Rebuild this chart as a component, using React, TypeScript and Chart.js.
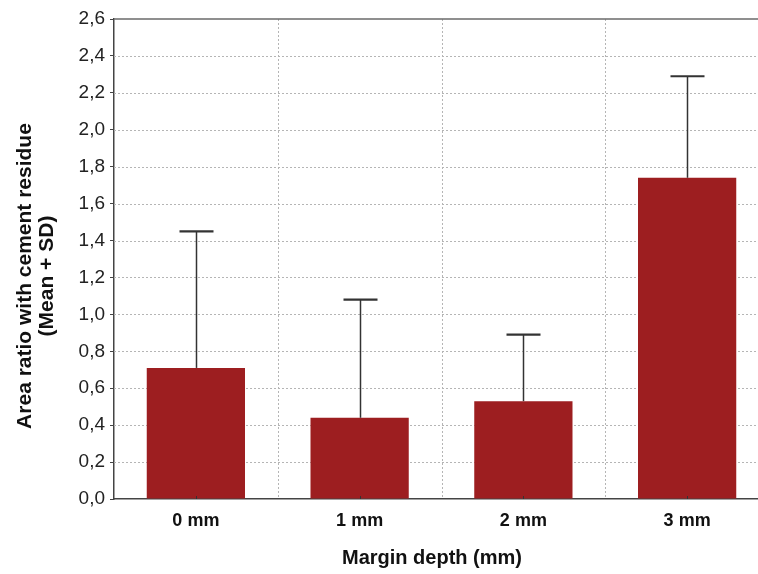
import React, { useEffect, useRef } from 'react';
import { Chart, registerables } from 'chart.js';

Chart.register(...registerables);

const categories = ['0 mm', '1 mm', '2 mm', '3 mm'];
const means = [0.71, 0.44, 0.53, 1.74];
const sds = [0.74, 0.64, 0.36, 0.55];
const yMin = 0;
const yMax = 2.6;
const yStep = 0.2;
const yTitleLines = ['Area ratio with cement residue', '(Mean + SD)'];
const xTitle = 'Margin depth (mm)';

const FONT = "'Liberation Sans', Arial, sans-serif";

const decorPlugin = {
  id: 'decor',
  beforeDatasetsDraw(chart: any) {
    const { ctx, chartArea, scales } = chart;
    const { left, right, top, bottom } = chartArea;
    const x = scales.x;
    const y = scales.y;
    ctx.save();
    ctx.strokeStyle = '#b5b5b5';
    ctx.lineWidth = 1;
    ctx.setLineDash([2, 2]);
    y.ticks.forEach((t: any) => {
      if (t.value <= yMin + 1e-9 || t.value >= yMax - 1e-9) return;
      const py = Math.round(y.getPixelForValue(t.value)) + 0.5;
      ctx.beginPath();
      ctx.moveTo(left, py);
      ctx.lineTo(right, py);
      ctx.stroke();
    });
    for (let i = 0; i < categories.length - 1; i++) {
      const px = Math.round((x.getPixelForValue(i) + x.getPixelForValue(i + 1)) / 2) + 0.5;
      ctx.beginPath();
      ctx.moveTo(px, top);
      ctx.lineTo(px, bottom);
      ctx.stroke();
    }
    ctx.setLineDash([]);
    ctx.strokeStyle = '#6a6a6a';
    ctx.lineWidth = 1.5;
    ctx.beginPath();
    ctx.moveTo(left, top);
    ctx.lineTo(right, top);
    ctx.stroke();
    ctx.restore();
  },
  afterDatasetsDraw(chart: any) {
    const { ctx, chartArea, scales } = chart;
    const x = scales.x;
    const y = scales.y;
    ctx.save();
    ctx.strokeStyle = '#333333';
    means.forEach((m, i) => {
      const px = Math.round(x.getPixelForValue(i)) + 0.5;
      const p0 = y.getPixelForValue(m);
      const p1 = y.getPixelForValue(m + sds[i]);
      ctx.lineWidth = 1.5;
      ctx.beginPath();
      ctx.moveTo(px, p0);
      ctx.lineTo(px, p1);
      ctx.stroke();
      ctx.lineWidth = 2.2;
      ctx.beginPath();
      ctx.moveTo(px - 17, p1);
      ctx.lineTo(px + 17, p1);
      ctx.stroke();
      ctx.lineWidth = 1;
      ctx.beginPath();
      ctx.moveTo(px, chartArea.bottom);
      ctx.lineTo(px, chartArea.bottom - 3);
      ctx.stroke();
    });
    ctx.restore();
  },
  afterDraw(chart: any) {
    const { ctx } = chart;
    ctx.save();
    ctx.fillStyle = '#111111';
    ctx.textAlign = 'center';
    ctx.textBaseline = 'middle';
    // y axis title
    ctx.font = `bold 21px ${FONT}`;
    ctx.translate(0, 276);
    ctx.rotate(-Math.PI / 2);
    yTitleLines.forEach((line, i) => {
      ctx.fillText(line, 0, 25 + i * 22);
    });
    ctx.restore();
    ctx.save();
    ctx.fillStyle = '#111111';
    ctx.textAlign = 'center';
    ctx.textBaseline = 'middle';
    ctx.font = `bold 20px ${FONT}`;
    ctx.fillText(xTitle, 432, 558);
    ctx.restore();
  },
};

export default function App() {
  const ref = useRef<HTMLCanvasElement | null>(null);
  useEffect(() => {
    if (!ref.current) return;
    const chart = new Chart(ref.current, {
      type: 'bar',
      data: {
        labels: categories,
        datasets: [
          {
            data: means,
            backgroundColor: '#9D1E20',
            borderWidth: 0,
            barPercentage: 0.6,
            categoryPercentage: 1,
          },
        ],
      },
      options: {
        responsive: false,
        animation: false,
        devicePixelRatio: 1,
        layout: { padding: { top: 19, right: 1, left: 0, bottom: 0 } },
        plugins: { legend: { display: false }, tooltip: { enabled: false } },
        scales: {
          x: {
            afterFit: (s: any) => {
              s.height = 75;
            },
            grid: { display: false, drawTicks: false },
            border: { display: true, color: '#444444', width: 1.5 },
            ticks: {
              padding: 11,
              color: '#111111',
              font: { family: FONT, size: 18, weight: 'bold' },
            },
            title: { display: false },
          },
          y: {
            min: yMin,
            max: yMax,
            afterFit: (s: any) => {
              s.width = 114;
            },
            grid: {
              drawOnChartArea: false,
              drawTicks: true,
              tickLength: 4,
              tickColor: '#444444',
            },
            border: { display: true, color: '#444444', width: 1.5 },
            ticks: {
              stepSize: yStep,
              padding: 5,
              color: '#222222',
              font: { family: FONT, size: 19 },
              callback: (v: any) => Number(v).toFixed(1).replace('.', ','),
            },
            title: { display: false },
          },
        },
      },
      plugins: [decorPlugin],
    });
    return () => chart.destroy();
  }, []);
  return (
    <div
      style={{
        position: 'absolute',
        left: 0,
        top: 0,
        width: 758,
        height: 574,
        overflow: 'hidden',
        background: '#ffffff',
      }}
    >
      <canvas ref={ref} width={770} height={574} style={{ display: 'block' }} />
    </div>
  );
}
